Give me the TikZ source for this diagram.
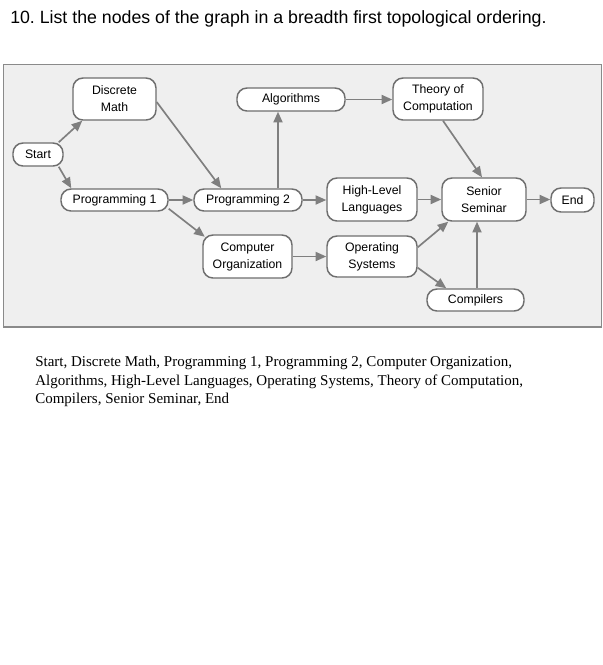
\documentclass[tikz,border=0pt]{standalone}
\usepackage{fontspec}
\setmainfont{Liberation Sans}
\newfontfamily\serifx{Liberation Serif}
\usetikzlibrary{arrows.meta,calc}
\definecolor{edgegray}{HTML}{7F7F7F}
\definecolor{bordergray}{HTML}{6E6E6E}
\definecolor{bggray}{HTML}{EFEFEF}
\definecolor{framegray}{HTML}{8A8A8A}
\frenchspacing
\begin{document}
\begin{tikzpicture}[x=0.75pt,y=-0.75pt,
  box/.style={draw=bordergray, line width=1.1pt, fill=white, rounded corners=7.5pt,
    inner sep=0pt, align=center, font=\fontsize{9.2}{12.75}\selectfont},
  edge/.style={draw=edgegray, line width=1.25pt, -{Triangle[length=8pt,width=6.8pt]}},
  titletext/.style={anchor=base west, inner sep=0pt, font=\fontsize{13.3}{15}\selectfont},
  answertext/.style={anchor=base west, inner sep=0pt, font=\serifx\fontsize{11.25}{14}\selectfont},
]
\useasboundingbox[fill=white] (0,0) rectangle (603,665);
% title
\node[titletext] (title) at (10,23.5) {10. List the nodes of the graph in a breadth first topological ordering.};
% diagram background
\draw[draw=framegray, line width=0.9pt, fill=bggray] (3.5,64.5) rectangle (601.5,327);
% nodes
\node[box, minimum width=62.25pt, minimum height=31.5pt] (dm) at (114.5,99) {Discrete\\Math};
\node[box, minimum width=37.5pt, minimum height=17.25pt] (start) at (38,154.5) {Start};
\node[box, minimum width=80.25pt, minimum height=16.5pt] (p1) at (114.5,200) {Programming 1};
\node[box, minimum width=81pt, minimum height=16.5pt] (p2) at (248,200) {Programming 2};
\node[box, minimum width=81pt, minimum height=17.25pt] (alg) at (291,99.5) {Algorithms};
\node[box, minimum width=66.75pt, minimum height=32.25pt] (co) at (247.5,256.5) {Computer\\Organization};
\node[box, minimum width=67.5pt, minimum height=31.5pt] (toc) at (438,99) {Theory of\\Computation};
\node[box, minimum width=67.5pt, minimum height=32.25pt] (hll) at (372,199.5) {High-Level\\Languages};
\node[box, minimum width=63pt, minimum height=32.25pt] (ss) at (484,199.5) {Senior\\Seminar};
\node[box, minimum width=32.25pt, minimum height=18pt] (end) at (572.5,200) {End};
\node[box, minimum width=67.5pt, minimum height=30.75pt] (os) at (372,256.5) {Operating\\Systems};
\node[box, minimum width=72.75pt, minimum height=16.5pt] (comp) at (475.5,300) {Compilers};
% edges
\draw[edge] ($(start.north east)+(-5,0)$) -- ($(dm.south west)+(10,0)$);
\draw[edge] ($(start.south east)+(-5,0)$) -- ($(p1.north west)+(11,0)$);
\draw[edge] ($(dm.east)+(0,3)$) -- ($(p2.north west)+(28,0)$);
\draw[edge] (p1.east) -- (p2.west);
\draw[edge] ($(p1.south east)+(0,-3)$) -- ($(co.north west)+(2.5,2.5)$);
\draw[edge] ($(p2.north)+(30,0)$) -- ($(alg.south)+(-13,0)$);
\draw[edge] (p2.east) -- (p2.east -| hll.west);
\draw[edge] (alg.east) -- (alg.east -| toc.west);
\draw[edge] ($(toc.south)+(5,0)$) -- ($(ss.north)+(-2,0)$);
\draw[edge] (hll.east) -- (ss.west);
\draw[edge] (ss.east) -- (ss.east -| end.west);
\draw[edge] (co.east) -- (co.east -| os.west);
\draw[edge] ($(os.north east)+(0,12)$) -- ($(ss.south west)+(7,0)$);
\draw[edge] ($(os.south east)+(0,-10)$) -- ($(comp.north west)+(20,0)$);
\draw[edge] ($(comp.north)+(1.5,0)$) -- ($(ss.south)+(-7,0)$);
% answer
\node[answertext] (ans1) at (35,366) {Start, Discrete Math, Programming 1, Programming 2, Computer Organization,};
\node[answertext] (ans2) at (35,385) {Algorithms, High-Level Languages, Operating Systems, Theory of Computation,};
\node[answertext] (ans3) at (35,403.5) {Compilers, Senior Seminar, End};
\end{tikzpicture}
\end{document}
